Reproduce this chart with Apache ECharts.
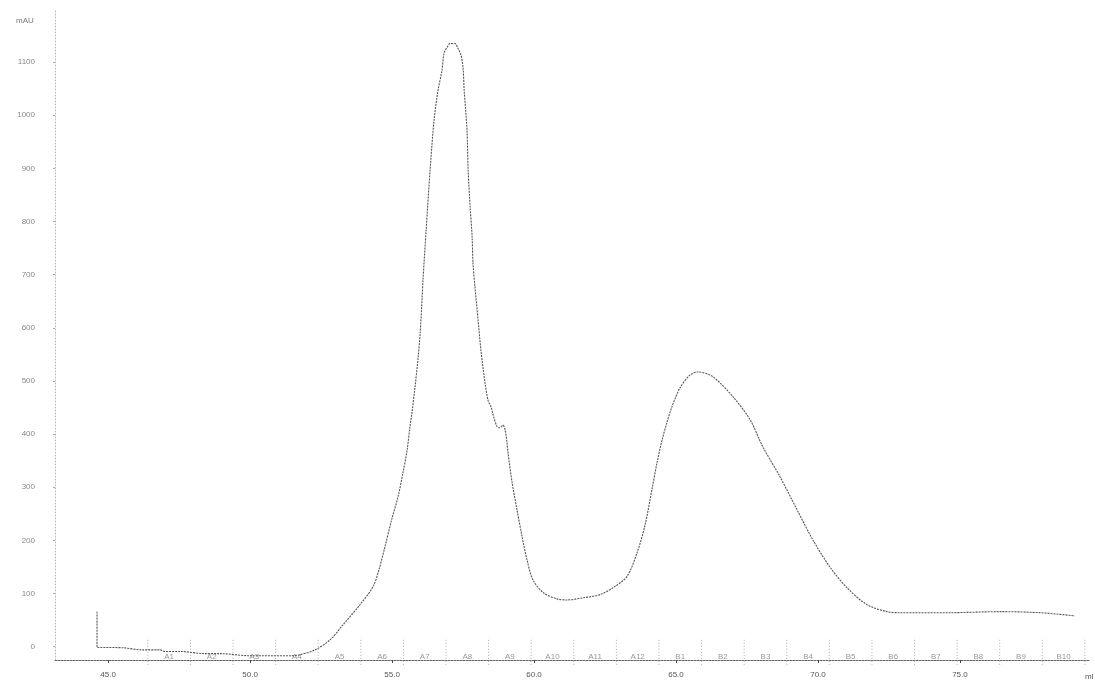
<!DOCTYPE html>
<html>
<head>
<meta charset="utf-8">
<script src="https://cdn.jsdelivr.net/npm/echarts@6/dist/echarts.min.js"></script>
<style>html,body{margin:0;padding:0;background:#fff;}#c{width:1095px;height:686px;}</style>
</head>
<body>
<div id="c"></div>
<script>
// Elution volume (ml) and UV absorbance (mAU)
const volume = [44.61,44.61,45.53,46.20,46.83,47.01,47.54,48.42,48.94,50.00,51.41,51.76,52.29,52.82,53.27,53.87,54.33,54.54,54.75,55.00,55.21,55.39,55.53,55.63,55.70,55.81,55.92,55.99,56.06,56.09,56.20,56.34,56.48,56.62,56.76,56.83,56.94,57.04,57.22,57.32,57.43,57.50,57.54,57.64,57.68,57.75,57.82,57.85,57.92,58.03,58.13,58.27,58.38,58.49,58.56,58.70,58.80,58.91,58.98,59.05,59.08,59.23,59.40,59.58,59.75,59.96,60.32,60.81,61.16,61.73,62.32,62.78,63.27,63.63,63.91,64.15,64.33,64.51,64.68,64.86,65.14,65.49,65.77,66.30,67.01,67.61,68.06,68.66,69.26,69.82,70.42,71.02,71.73,72.43,72.89,74.65,76.41,77.82,79.05];
const absorbance = [66,-1,-2,-6,-6,-9,-9,-13,-13,-17,-17,-15,-6,13,41,79,113,145,188,242,282,329,370,414,440,489,545,590,658,690,784,897,991,1047,1085,1117,1128,1135,1135,1126,1113,1090,1047,972,897,827,771,722,677,615,558,498,464,451,436,414,412,417,408,383,367,308,258,207,164,126,102,90,88,92,98,111,132,177,229,295,346,389,422,452,487,511,517,508,470,427,376,320,258,201,150,111,79,66,64,64,66,64,58];
// Fraction boundaries (ml) and fraction names
const fractionEdges = [46.4,47.9,49.4,50.9,52.4,53.9,55.4,56.9,58.4,59.9,61.4,62.9,64.4,65.9,67.4,68.9,70.4,71.9,73.4,74.9,76.4,77.9,79.4];
const fractionLabels = ['A1','A2','A3','A4','A5','A6','A7','A8','A9','A10','A11','A12','B1','B2','B3','B4','B5','B6','B7','B8','B9','B10'];
// Axis tick labels
const xTicks = [45,50,55,60,65,70,75];
const yTicks = [0,100,200,300,400,500,600,700,800,900,1000,1100];

const trace = volume.map((v,i)=>[v,absorbance[i]]);
const fracMids = fractionLabels.map((l,i)=>[(fractionEdges[i]+fractionEdges[i+1])/2, l]);

const chart = echarts.init(document.getElementById('c'));
const font = 'Liberation Sans';
chart.setOption({
  animation:false,
  backgroundColor:'#fff',
  title:[
    {text:'mAU', left:11, top:12, textStyle:{fontSize:8, fontWeight:'normal', color:'#777', fontFamily:font}},
    {text:'ml', left:1080, top:668, textStyle:{fontSize:8, fontWeight:'normal', color:'#555', fontFamily:font}}
  ],
  grid:{left:55, right:5, top:9, bottom:26},
  xAxis:{
    type:'value', min:43.13, max:79.58,
    axisLine:{show:true, onZero:false, lineStyle:{color:'#666', width:1, type:[2,1]}},
    axisTick:{show:true, length:3, customValues:xTicks, lineStyle:{color:'#444'}},
    axisLabel:{customValues:xTicks, formatter:v=>v.toFixed(1), fontSize:8, color:'#555', fontFamily:font, margin:11},
    splitLine:{show:false}
  },
  yAxis:{
    type:'value', min:-25, max:1200,
    axisLine:{show:true, onZero:false, lineStyle:{color:'#bbb', width:1, type:[1,2]}},
    axisTick:{show:true, length:2, customValues:yTicks, lineStyle:{color:'#aaa'}},
    axisLabel:{customValues:yTicks, formatter:v=>String(v), fontSize:8, color:'#888', fontFamily:font, margin:20},
    splitLine:{show:false}
  },
  series:[
    {
      type:'line', data:trace, showSymbol:false, smooth:0.3,
      lineStyle:{color:'#555', width:1.1, type:[2,1]}
    },
    {
      type:'custom', data:fractionEdges.map(e=>[e]),
      renderItem:(params, api)=>{
        const x = api.value(0);
        const p1 = api.coord([x, 13]);
        const p2 = api.coord([x, -37]);
        return {type:'line', shape:{x1:p1[0], y1:p1[1], x2:p2[0], y2:p2[1]},
          style:{stroke:'#aaa', lineWidth:1, lineDash:[1,2]}};
      }
    },
    {
      type:'custom', data:fracMids,
      renderItem:(params, api)=>{
        const p = api.coord([api.value(0), -19]);
        return {type:'text', x:p[0], y:p[1],
          style:{text:fracMids[params.dataIndex][1], fill:'#999', fontSize:8, fontFamily:font, align:'center', verticalAlign:'middle'}};
      }
    }
  ]
});
</script>
</body>
</html>
